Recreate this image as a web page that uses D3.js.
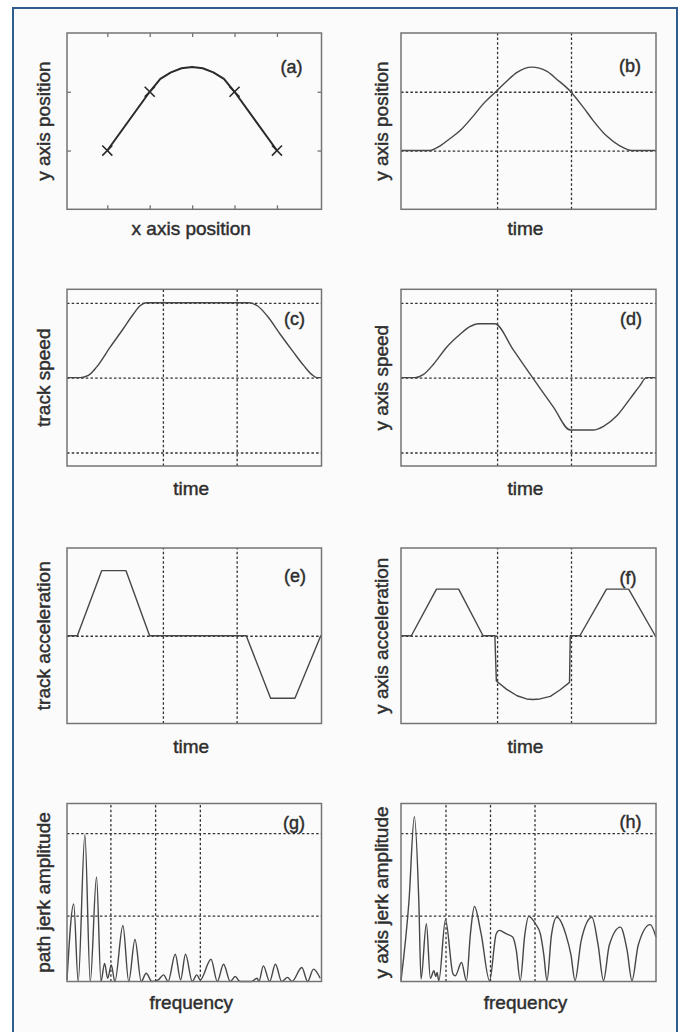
<!DOCTYPE html>
<html>
<head>
<meta charset="utf-8">
<script src="https://cdn.jsdelivr.net/npm/d3@7"></script>
<style>
  html, body { margin: 0; padding: 0; background: #fff; }
  svg { display: block; font-family: "Liberation Sans", Arial, Helvetica, sans-serif; }
  .frame { fill: none; stroke: #2f5d8c; stroke-width: 2; }
  .sheet { fill: #fbfbfb; }
  .box { fill: none; stroke: #747474; stroke-width: 1.5; }
  .grid line { stroke: #333; stroke-width: 1.3; stroke-dasharray: 2.5, 2.2; }
  .grid path, .ticks path { display: none; }
  .ticks line { stroke: #747474; stroke-width: 1.3; }
  .curve { fill: none; stroke: #474747; stroke-width: 1.4; stroke-linejoin: round; }
  .curve.heavy { stroke: #2a2a2a; stroke-width: 2; }
  .marker { fill: none; stroke: #2a2a2a; stroke-width: 1.6; }
  .label, .tag { fill: #2e2e2e; stroke: #2e2e2e; stroke-width: 0.45; }
  .label { font-size: 19px; }
  .tag { font-size: 18px; }
</style>
</head>
<body>
<svg id="chart" width="681" height="1032"></svg>
<script>
/* global d3: false */

// (a) planned path in the x-y plane
const pathX = [1, 2, 2.25, 2.5, 2.75, 3, 3.25, 3.5, 3.75, 4, 5];
const pathY = [1, 2, 2.22, 2.33, 2.4, 2.42, 2.4, 2.33, 2.22, 2, 1];
const waypointX = [1, 2, 4, 5];
const waypointY = [1, 2, 2, 1];
const posTicksX = [1, 2, 3, 4, 5];
const posTicksY = [1, 2];

// shared time axis
const timeGrid = [1.3, 2.3];

// (b) y axis position
const yPosT = [0, 0.39, 0.53, 0.66, 0.8, 0.98, 1.11, 1.29, 1.43, 1.57, 1.77, 1.97, 2.11, 2.29, 2.47, 2.6, 2.78, 2.96, 3.12, 3.45];
const yPosV = [1, 1, 1.08, 1.2, 1.34, 1.59, 1.79, 2.01, 2.18, 2.33, 2.42, 2.35, 2.21, 2.01, 1.73, 1.51, 1.25, 1.08, 1, 1];

// (c) track speed
const trackSpeedT = [0, 0.18, 0.29, 0.4, 0.58, 0.76, 0.9, 0.99, 1.08, 2.46, 2.58, 2.71, 2.89, 3.07, 3.21, 3.32, 3.39, 3.45];
const trackSpeedV = [0, 0, 0.03, 0.14, 0.4, 0.65, 0.85, 0.96, 1, 1, 0.96, 0.83, 0.58, 0.34, 0.16, 0.04, 0, 0];

// (d) y axis speed
const ySpeedT = [0, 0.19, 0.3, 0.44, 0.62, 0.8, 0.93, 1.05, 1.27, 1.52, 1.78, 2.06, 2.29, 2.6, 2.74, 2.92, 3.1, 3.23, 3.32, 3.45];
const ySpeedV = [0, 0, 0.04, 0.18, 0.41, 0.58, 0.68, 0.72, 0.72, 0.37, 0, -0.39, -0.7, -0.7, -0.65, -0.51, -0.28, -0.11, 0, 0];
const speedGrid = [-1, 0, 1];

// (e) track acceleration
const trackAccT = [0, 0.14, 0.47, 0.8, 1.12, 2.43, 2.76, 3.09, 3.44, 3.45];
const trackAccV = [0, 0, 1.02, 1.02, 0, 0, -0.98, -0.98, 0, 0];

// (f) y axis acceleration
const yAccT = [0, 0.14, 0.48, 0.78, 1.11, 1.27, 1.29, 1.43, 1.57, 1.7, 1.78, 1.88, 2.02, 2.15, 2.28, 2.29, 2.42, 2.78, 3.08, 3.44, 3.45];
const yAccV = [0, 0, 0.73, 0.73, 0, 0, -0.71, -0.84, -0.94, -0.99, -1, -0.99, -0.95, -0.85, -0.73, 0, 0, 0.73, 0.73, 0, 0];

// (g) path jerk spectrum
const pathJerkF = [0.03, 0.18, 0.28, 0.43, 0.55, 0.69, 0.79, 0.87, 0.94, 1.02, 1.1, 1.28, 1.41, 1.55, 1.69, 1.8, 1.93, 2.07, 2.19, 2.29,
  2.45, 2.57, 2.68, 2.83, 2.93, 3.01, 3.25, 3.39, 3.53, 3.68, 3.79, 3.9, 4.16, 4.28, 4.32, 4.42, 4.56, 4.69, 4.83, 4.96,
  5.06, 5.28, 5.41, 5.54, 5.69];
const pathJerkA = [0.02, 0.94, 0, 1.78, 0, 1.27, 0, 0.22, 0.04, 0.2, 0, 0.68, 0, 0.51, 0, 0.1, 0, 0.02, 0.08, 0,
  0.33, 0.02, 0.33, 0, 0.08, 0.02, 0.27, 0, 0.21, 0, 0.06, 0, 0, 0.04, 0, 0.19, 0, 0.21, 0, 0.05,
  0, 0.17, 0, 0.15, 0.04];

// (h) y axis jerk spectrum
const yJerkF = [0, 0.18, 0.3, 0.4, 0.45, 0.57, 0.66, 0.74, 0.78, 0.81, 0.85, 1, 1.17, 1.22, 1.36, 1.47, 1.56, 1.65, 1.8, 1.99,
  2.14, 2.21, 2.36, 2.51, 2.59, 2.68, 2.78, 2.87, 3.02, 3.13, 3.21, 3.28, 3.38, 3.5, 3.71, 3.82, 3.91, 4.05, 4.29, 4.43,
  4.55, 4.68, 4.93, 5.08, 5.19, 5.33, 5.6, 5.73];
const yJerkA = [0.01, 0.98, 2, 0.98, 0.03, 0.7, 0.04, 0.13, 0.06, 0.11, 0.01, 0.75, 0.09, 0.07, 0.23, 0.01, 0.58, 0.91, 0.58, 0.01,
  0.58, 0.62, 0.58, 0.54, 0.38, 0.01, 0.56, 0.79, 0.7, 0.58, 0.32, 0.01, 0.56, 0.78, 0.56, 0.32, 0.01, 0.5, 0.78, 0.44,
  0.01, 0.44, 0.66, 0.38, 0.01, 0.44, 0.69, 0.54];
const freqGrid = [1, 2, 3];
const jerkGrid = [0.8, 1.8];

const svg = d3.select('#chart');

// plot box edges in pixels
const cols = [[67, 321.5], [401, 656]];
const rows = [[33, 209.3], [289.3, 466], [548, 723.5], [803.5, 981.5]];
const xLabelGap = [26, 29, 29, 27];
const yLabelGap = [17, 13.5];

const panels = [
  {
    col: 0, row: 0, tag: '(a)', tagAt: [30, 34],
    xLabel: 'x axis position', yLabel: 'y axis position',
    xDomain: [0.05, 6.05], yDomain: [0, 3], ticksX: posTicksX, ticksY: posTicksY,
    xs: pathX, ys: pathY, curve: d3.curveLinear, heavy: true,
  },
  {
    col: 1, row: 0, tag: '(b)', tagAt: [26, 33],
    xLabel: 'time', yLabel: 'y axis position',
    xDomain: [0, 3.45], yDomain: [0, 3], gridX: timeGrid, gridY: posTicksY,
    xs: yPosT, ys: yPosV, curve: d3.curveMonotoneX,
  },
  {
    col: 0, row: 1, tag: '(c)', tagAt: [27, 30],
    xLabel: 'time', yLabel: 'track speed',
    xDomain: [0, 3.45], yDomain: [-1.18, 1.18], gridX: timeGrid, gridY: speedGrid,
    xs: trackSpeedT, ys: trackSpeedV, curve: d3.curveMonotoneX,
  },
  {
    col: 1, row: 1, tag: '(d)', tagAt: [25, 30],
    xLabel: 'time', yLabel: 'y axis speed',
    xDomain: [0, 3.45], yDomain: [-1.18, 1.18], gridX: timeGrid, gridY: speedGrid,
    xs: ySpeedT, ys: ySpeedV, curve: d3.curveMonotoneX,
  },
  {
    col: 0, row: 2, tag: '(e)', tagAt: [26.5, 28],
    xLabel: 'time', yLabel: 'track acceleration',
    xDomain: [0, 3.45], yDomain: [-1.375, 1.375], gridX: timeGrid, gridY: [0],
    xs: trackAccT, ys: trackAccV, curve: d3.curveLinear,
  },
  {
    col: 1, row: 2, tag: '(f)', tagAt: [28, 30],
    xLabel: 'time', yLabel: 'y axis acceleration',
    xDomain: [0, 3.45], yDomain: [-1.375, 1.375], gridX: timeGrid, gridY: [0],
    xs: yAccT, ys: yAccV, curve: d3.curveLinear,
  },
  {
    col: 0, row: 3, tag: '(g)', tagAt: [27.5, 19],
    xLabel: 'frequency', yLabel: 'path jerk amplitude',
    xDomain: [0.03, 5.72], yDomain: [0, 2.16], gridX: freqGrid, gridY: jerkGrid,
    xs: pathJerkF, ys: pathJerkA, curve: d3.curveMonotoneX,
  },
  {
    col: 1, row: 3, tag: '(h)', tagAt: [25.5, 18],
    xLabel: 'frequency', yLabel: 'y axis jerk amplitude',
    xDomain: [0, 5.73], yDomain: [0, 2.16], gridX: freqGrid, gridY: jerkGrid,
    xs: yJerkF, ys: yJerkA, curve: d3.curveMonotoneX,
  },
];

function drawFrame() {
  svg.append('rect')
    .attr('class', 'sheet')
    .attr('x', 13).attr('y', 8)
    .attr('width', 664).attr('height', 1030);
  svg.append('path')
    .attr('class', 'frame')
    .attr('d', 'M13,1040V8H677V1040');
}

function drawPanel(p) {
  const [x0, x1] = cols[p.col];
  const [y0, y1] = rows[p.row];
  const w = x1 - x0;
  const h = y1 - y0;
  const x = d3.scaleLinear().domain(p.xDomain).range([0, w]);
  const y = d3.scaleLinear().domain(p.yDomain).range([h, 0]);
  const g = svg.append('g').attr('transform', `translate(${x0},${y0})`);

  if (p.gridX) {
    g.append('g')
      .attr('class', 'grid')
      .attr('transform', `translate(0,${h})`)
      .call(d3.axisBottom(x).tickValues(p.gridX).tickSize(-h).tickFormat(''));
  }
  if (p.gridY) {
    g.append('g')
      .attr('class', 'grid')
      .call(d3.axisLeft(y).tickValues(p.gridY).tickSize(-w).tickFormat(''));
  }
  if (p.ticksX) {
    g.append('g').attr('class', 'ticks').attr('transform', `translate(0,${h})`)
      .call(d3.axisBottom(x).tickValues(p.ticksX).tickSize(-4).tickFormat(''));
    g.append('g').attr('class', 'ticks')
      .call(d3.axisTop(x).tickValues(p.ticksX).tickSize(-4).tickFormat(''));
    g.append('g').attr('class', 'ticks')
      .call(d3.axisLeft(y).tickValues(p.ticksY).tickSize(-4).tickFormat(''));
    g.append('g').attr('class', 'ticks').attr('transform', `translate(${w},0)`)
      .call(d3.axisRight(y).tickValues(p.ticksY).tickSize(-4).tickFormat(''));
  }

  const line = d3.line()
    .x(i => x(p.xs[i]))
    .y(i => y(p.ys[i]))
    .curve(p.curve);
  g.append('path')
    .attr('class', p.heavy ? 'curve heavy' : 'curve')
    .attr('d', line(d3.range(p.xs.length)));

  if (p.heavy) {
    g.selectAll('.marker')
      .data(d3.range(waypointX.length))
      .enter()
      .append('path')
      .attr('class', 'marker')
      .attr('transform', i => `translate(${x(waypointX[i])},${y(waypointY[i])})`)
      .attr('d', d3.symbol(d3.symbolX, 68)());
  }

  g.append('rect')
    .attr('class', 'box')
    .attr('width', w)
    .attr('height', h);

  g.append('text')
    .attr('class', 'tag')
    .attr('x', w - p.tagAt[0])
    .attr('y', p.tagAt[1])
    .attr('text-anchor', 'middle')
    .attr('dominant-baseline', 'central')
    .text(p.tag);

  g.append('text')
    .attr('class', 'label')
    .attr('x', w / 2 - 3)
    .attr('y', h + xLabelGap[p.row])
    .attr('text-anchor', 'middle')
    .text(p.xLabel);

  g.append('text')
    .attr('class', 'label')
    .attr('transform', `translate(${-yLabelGap[p.col]},${h / 2}) rotate(-90)`)
    .attr('text-anchor', 'middle')
    .text(p.yLabel);
}

drawFrame();
panels.forEach(drawPanel);
</script>
</body>
</html>
